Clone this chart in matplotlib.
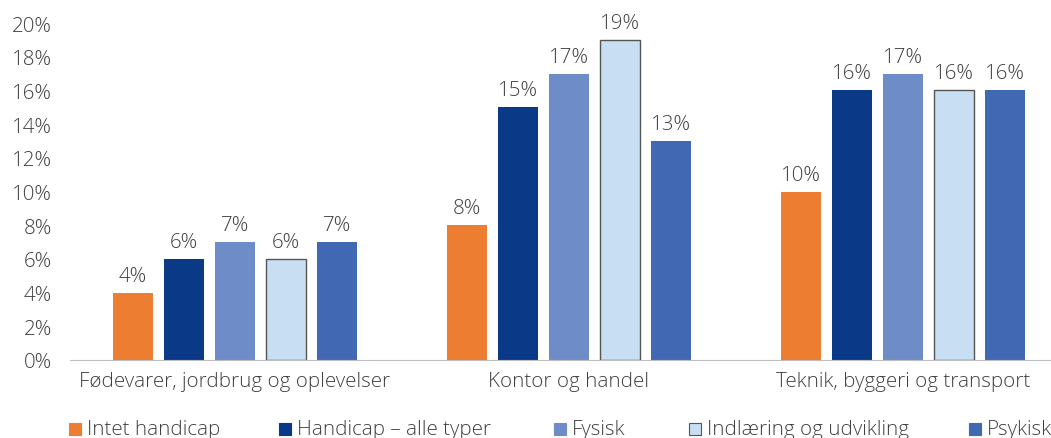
import matplotlib
matplotlib.use("Agg")
import matplotlib.pyplot as plt
from matplotlib.patches import Rectangle
import numpy as np

plt.rcParams['font.family'] = ['Open Sans', 'DejaVu Sans']

categories = ["Fødevarer, jordbrug og oplevelser", "Kontor og handel", "Teknik, byggeri og transport"]
series_names = ["Intet handicap", "Handicap – alle typer", "Fysisk", "Indlæring og udvikling", "Psykisk"]
intet = [4, 8, 10]
alle_typer = [6, 15, 16]
fysisk = [7, 17, 17]
indlaering = [6, 19, 16]
psykisk = [7, 13, 16]
series = [intet, alle_typer, fysisk, indlaering, psykisk]

colors = ["#ED7D31", "#0A3A87", "#6E8DC8", "#C8DEF2", "#4169B3"]
edges = [None, None, None, "#555555", None]
txt = "#404040"
fs = 14.8

fig = plt.figure(figsize=(10.51, 4.39), dpi=100)
ax = fig.add_axes([70/1051, 78/439, 998/1051, 337/439])

x = np.arange(len(categories))
w = 0.12
step = 0.153
for i, vals in enumerate(series):
    off = (i - 2) * step
    if edges[i]:
        bars = ax.bar(x + off, vals, w, color=colors[i], edgecolor=edges[i], linewidth=1.0)
    else:
        bars = ax.bar(x + off, vals, w, color=colors[i])
    for b, v in zip(bars, vals):
        ax.annotate(f"{v}%", (b.get_x() + b.get_width()/2, v), xytext=(0, 5),
                    textcoords="offset points", ha="center", va="bottom",
                    fontsize=fs, color=txt, fontweight="light")

ax.set_xlim(-0.494, 2.494)
ax.set_ylim(0, 20)
ax.set_yticks(range(0, 21, 2))
ax.set_yticklabels([f"{t}%" for t in range(0, 21, 2)])
ax.set_xticks(x)
ax.set_xticklabels(categories)
ax.tick_params(axis="both", length=0, labelsize=fs, colors=txt)
for lab in ax.get_xticklabels() + ax.get_yticklabels():
    lab.set_fontweight("light")
ax.tick_params(axis="y", pad=13)
ax.tick_params(axis="x", pad=8)
for s in ["top", "right", "left"]:
    ax.spines[s].set_visible(False)
ax.spines["bottom"].set_color("#BFBFBF")

# legend drawn by hand to match spacing
leg_x = [69, 279, 554, 689, 969]
for name, c, e, lx in zip(series_names, colors, edges, leg_x):
    fig.patches.append(Rectangle((lx/1051, 3/439), 12/1051, 12/439, transform=fig.transFigure,
                                 facecolor=c, edgecolor=e if e else c, linewidth=0.8))
    fig.text((lx + 18)/1051, 9/439, name, fontsize=fs, color=txt, va="center", ha="left",
             fontweight="light")

fig.savefig("out.png", dpi=100)
